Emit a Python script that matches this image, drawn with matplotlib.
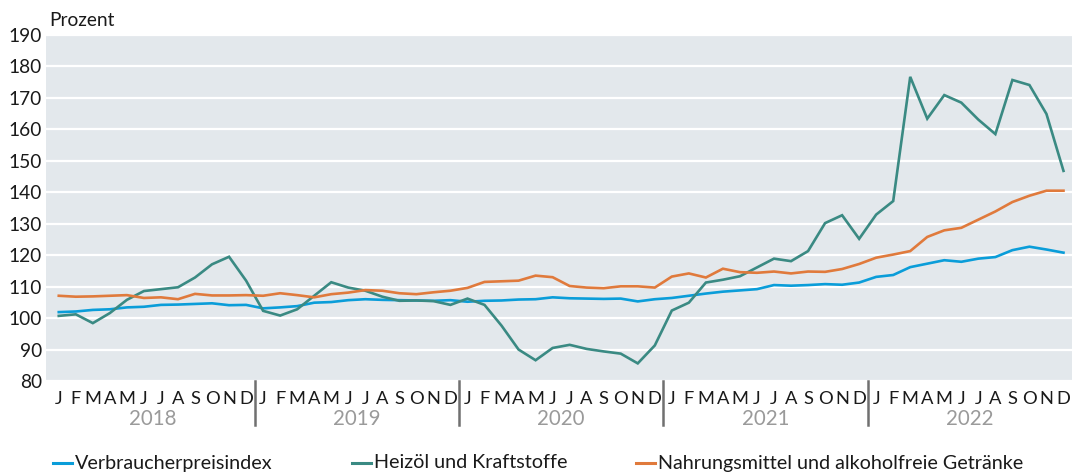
import matplotlib
matplotlib.use('Agg')
import matplotlib.pyplot as plt
from matplotlib.lines import Line2D
import matplotlib.transforms as mtransforms

plt.rcParams['font.family'] = ['Lato', 'DejaVu Sans']

# monthly index values 2018-2022
years = ['2018', '2019', '2020', '2021', '2022']
month_letters = ['J', 'F', 'M', 'A', 'M', 'J', 'J', 'A', 'S', 'O', 'N', 'D']

verbraucherpreise = [
    101.9, 102.1, 102.6, 102.8, 103.4, 103.6, 104.2, 104.3, 104.5, 104.7, 104.1, 104.2,
    103.1, 103.4, 103.8, 104.9, 105.1, 105.7, 106.0, 105.8, 105.7, 105.6, 105.5, 105.7,
    105.2, 105.5, 105.6, 105.9, 106.0, 106.6, 106.3, 106.2, 106.1, 106.2, 105.3, 106.0,
    106.4, 107.1, 107.8, 108.4, 108.8, 109.2, 110.5, 110.3, 110.5, 110.8, 110.6, 111.3,
    113.1, 113.7, 116.2, 117.3, 118.4, 117.9, 118.9, 119.4, 121.6, 122.7, 121.8, 120.8,
]
heizoel = [
    100.7, 101.2, 98.4, 101.6, 105.8, 108.6, 109.2, 109.8, 112.9, 117.1, 119.5, 111.9,
    102.3, 100.8, 102.8, 107.1, 111.4, 109.7, 108.7, 106.8, 105.5, 105.6, 105.4, 104.2,
    106.2, 104.2, 97.6, 90.0, 86.6, 90.5, 91.5, 90.2, 89.4, 88.7, 85.6, 91.3,
    102.4, 104.9, 111.3, 112.2, 113.3, 116.1, 118.9, 118.1, 121.3, 130.2, 132.7, 125.2,
    132.9, 137.2, 176.7, 163.4, 170.9, 168.5, 163.1, 158.5, 175.7, 174.1, 164.9, 146.8,
]
nahrungsmittel = [
    107.1, 106.8, 106.9, 107.1, 107.3, 106.4, 106.6, 106.0, 107.7, 107.2, 107.2, 107.3,
    107.1, 107.9, 107.3, 106.6, 107.6, 108.1, 108.9, 108.7, 107.9, 107.6, 108.2, 108.7,
    109.6, 111.5, 111.7, 111.9, 113.5, 113.0, 110.2, 109.7, 109.5, 110.1, 110.1, 109.7,
    113.2, 114.2, 112.9, 115.7, 114.6, 114.4, 114.8, 114.2, 114.8, 114.7, 115.6, 117.2,
    119.2, 120.2, 121.3, 125.8, 127.9, 128.7, 131.3, 133.9, 136.9, 138.9, 140.5, 140.5,
]

series = [
    ('Verbraucherpreisindex', verbraucherpreise, '#0a9dd9'),
    ('Heizöl und Kraftstoffe', heizoel, '#3a8a83'),
    ('Nahrungsmittel und alkoholfreie Getränke', nahrungsmittel, '#e07a3c'),
]

fig = plt.figure(figsize=(10.72, 4.74), dpi=100)
ax = fig.add_axes([46 / 1072, 1 - 381 / 474, 1 - 46 / 1072, 346 / 474])
ax.set_facecolor('#e3e8ec')

x = list(range(len(verbraucherpreise)))
for name, vals, col in series:
    ax.plot(x, vals, color=col, lw=1.9, solid_joinstyle='miter')

ax.set_ylim(80, 190)
ax.set_xlim(-0.75, 59.5)
ax.set_yticks(range(80, 191, 10))
ax.grid(axis='y', color='white', lw=1.6)
ax.set_axisbelow(True)
for s in ax.spines.values():
    s.set_visible(False)

ax.set_xticks(x)
ax.set_xticklabels(month_letters * len(years), fontsize=13.2, color='#1a1a1a')
ax.tick_params(axis='x', length=0, pad=7)
ax.tick_params(axis='y', length=0, pad=3, labelsize=13.8, labelcolor='#1a1a1a')

trans = mtransforms.blended_transform_factory(ax.transData, ax.transAxes)
for k, yr in enumerate(years):
    ax.text(k * 12 + 5.5, -0.11, yr, transform=trans, ha='center', va='center',
            fontsize=14.8, color='#9a9a9a')
    if k > 0:
        ax.plot([k * 12 - 0.5] * 2, [0, -0.127], transform=trans, color='#707070',
                lw=1.8, clip_on=False)

fig.text(49 / 1072, 1 - 20 / 474, 'Prozent', fontsize=13.8, va='center', color='#1a1a1a')

# legend along the bottom
leg_x = [53, 352, 636]
leg_y = 1 - 463 / 474
for (name, vals, col), lx in zip(series, leg_x):
    fig.add_artist(Line2D([lx / 1072, (lx + 19) / 1072], [leg_y, leg_y],
                          transform=fig.transFigure, color=col, lw=2.2))
    fig.text((lx + 22) / 1072, leg_y, name, fontsize=14.2, va='center', color='#1a1a1a')

fig.savefig('out.png', dpi=100)
